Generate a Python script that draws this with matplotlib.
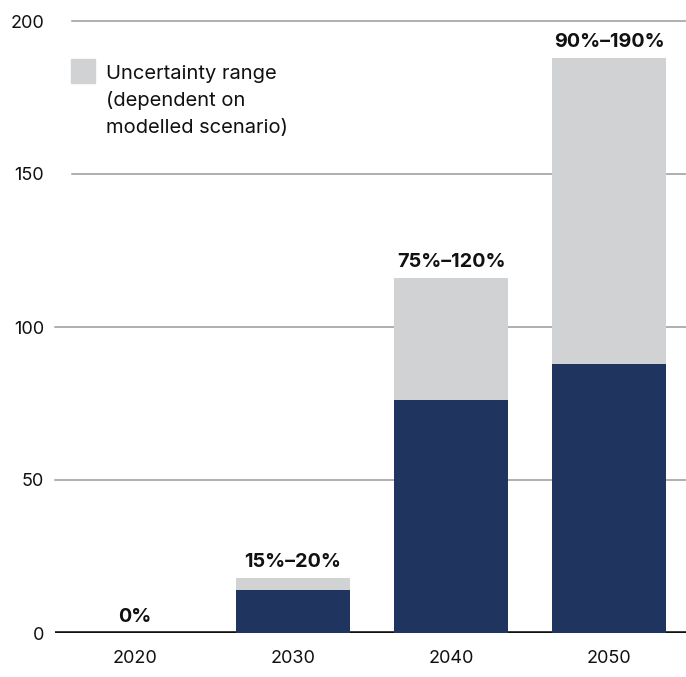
import matplotlib.pyplot as plt
from matplotlib.patches import Rectangle

plt.rcParams['font.family'] = ['Inter', 'DejaVu Sans']

# data
years = ['2020', '2030', '2040', '2050']
low_values = [0, 14, 76, 88]         # navy part
high_values = [0, 18, 116, 188]      # top of grey uncertainty range
range_labels = ['0%', '15%–20%', '75%–120%', '90%–190%']
yticks = [0, 50, 100, 150, 200]
legend_lines = ['Uncertainty range', '(dependent on', 'modelled scenario)']

navy = '#1f3560'
grey = '#d1d2d4'

fig = plt.figure(figsize=(6.86, 6.77), dpi=100)
ax = fig.add_axes([55/686, 44/677, 631/686, 612/677])

x = list(range(len(years)))
spread = [h - l for h, l in zip(high_values, low_values)]

ax.bar(x, low_values, width=0.72, color=navy, zorder=3)
ax.bar(x, spread, bottom=low_values, width=0.72, color=grey, zorder=3)

for xi, top, lab in zip(x, high_values, range_labels):
    ax.annotate(lab, (xi, top), xytext=(0, 5), textcoords='offset points',
                ha='center', va='bottom', fontsize=14.3, fontweight='bold', color='#111111')

ax.set_xlim(-0.506, 3.487)
ax.set_ylim(0, 200)

# gridlines, upper two shortened to make room for the legend
for yv in yticks[1:]:
    xmin = 0.027 if yv >= 150 else 0
    ax.axhline(yv, xmin=xmin, xmax=1, color='#9a9a9a', lw=1.1, zorder=1, clip_on=False)
ax.axhline(0, color='#111111', lw=2.6, zorder=2)

ax.set_xticks(x)
ax.set_xticklabels(years)
ax.set_yticks(yticks)
ax.tick_params(axis='both', length=0, labelsize=13, colors='#111111')
ax.tick_params(axis='y', pad=8)
ax.tick_params(axis='x', pad=12)
for s in ax.spines.values():
    s.set_visible(False)

# legend
ax.add_patch(Rectangle((0.0254, 0.899), 0.038, 0.039, transform=ax.transAxes,
                       color=grey, clip_on=False))
for i, line in enumerate(legend_lines):
    ax.text(0.0808, 0.914 - i * 27/612, line, transform=ax.transAxes,
            fontsize=14.5, va='center', ha='left', color='#111111')

fig.savefig('out.png', dpi=100)
